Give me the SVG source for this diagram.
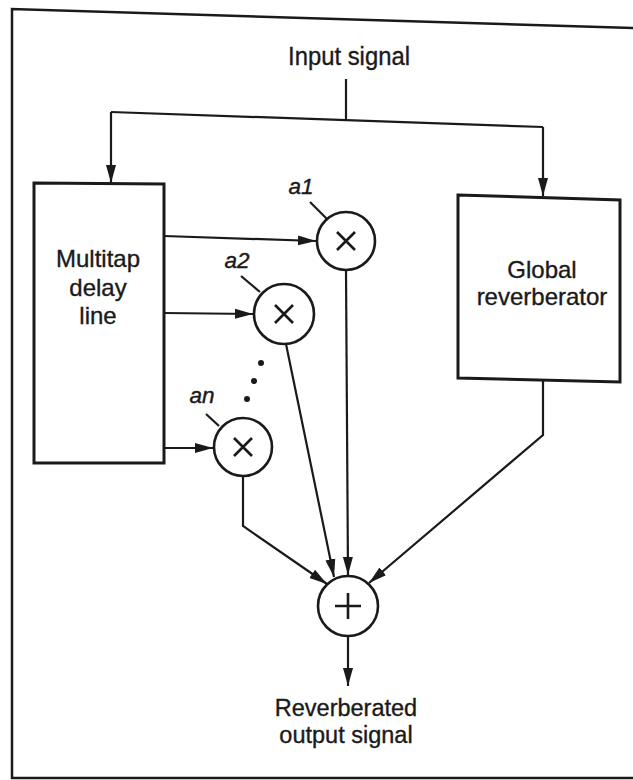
<svg xmlns="http://www.w3.org/2000/svg" width="633" height="780" viewBox="0 0 633 780">
<defs>
<marker id="arr" markerUnits="userSpaceOnUse" markerWidth="19" markerHeight="12" refX="18" refY="6" orient="auto">
<path d="M0,1 L18,6 L0,11 Z" fill="#1a1a1a"/>
</marker>
<style>
.t{font-family:"Liberation Sans",Arial,sans-serif;font-size:24px;fill:#1a1a1a;stroke:#1a1a1a;stroke-width:0.35;text-anchor:middle}
.lab{font-family:"Liberation Sans",Arial,sans-serif;font-size:22.5px;font-style:italic;fill:#1a1a1a;stroke:#1a1a1a;stroke-width:0.4;text-anchor:middle}
.box{fill:none;stroke:#1a1a1a;stroke-width:3}
.op{fill:#fff;stroke:#1a1a1a;stroke-width:2.6}
.sym{stroke:#1a1a1a;stroke-width:2.6;fill:none}
.c{fill:none;stroke:#1a1a1a;stroke-width:2.2}
.ca{fill:none;stroke:#1a1a1a;stroke-width:2.2;marker-end:url(#arr)}
</style>
</defs>
<rect width="633" height="780" fill="#fff"/>
<path d="M633,28 L12,9 L12,778 L633,778" fill="none" stroke="#1a1a1a" stroke-width="2.5"/>

<g id="input">
<text class="t" x="349" y="65" style="font-size:26px" textLength="122" lengthAdjust="spacingAndGlyphs">Input signal</text>
</g>

<g id="connectors">
<path class="c" d="M346,79 L346,119"/>
<path class="c" d="M111,112 L543,127"/>
<path class="ca" d="M111,112 L111,183"/>
<path class="ca" d="M543,127 L543,196"/>
<path class="ca" d="M164,236 L316,241"/>
<path class="ca" d="M164,313 L253,314"/>
<path class="ca" d="M164,448 L213,448"/>
<path class="ca" d="M346,270 L348,575"/>
<path class="ca" d="M286,344 L334,577"/>
<path class="ca" d="M243,476 L243,526 L327,584"/>
<path class="ca" d="M543,381 L543,435 L369,583"/>
<path class="ca" d="M348,636 L348,686"/>
<path class="c" d="M310,202 L327,219"/>
<path class="c" d="M241,276 L260,292"/>
<path class="c" d="M206,414 L219,426"/>
</g>

<g id="multitap">
<polygon class="box" points="34,183 164,184 164,463 34,463"/>
<text class="t" x="98" y="267">Multitap</text>
<text class="t" x="98" y="296">delay</text>
<text class="t" x="98" y="324">line</text>
</g>

<g id="global">
<polygon class="box" points="458,195 620,200 620,382 458,378"/>
<text class="t" x="542" y="278">Global</text>
<text class="t" x="542" y="305">reverberator</text>
</g>

<g id="mult-a1">
<circle class="op" cx="346" cy="241" r="29"/>
<path class="sym" d="M337,232 L355,250 M355,232 L337,250"/>
<text class="lab" x="301" y="194">a1</text>
</g>

<g id="mult-a2">
<circle class="op" cx="284" cy="314" r="30"/>
<path class="sym" d="M275,305 L293,323 M293,305 L275,323"/>
<text class="lab" x="237" y="268">a2</text>
</g>

<g id="dots">
<circle cx="261" cy="363" r="3" fill="#1a1a1a"/>
<circle cx="254" cy="381" r="3" fill="#1a1a1a"/>
<circle cx="247" cy="399" r="3" fill="#1a1a1a"/>
</g>

<g id="mult-an">
<circle class="op" cx="243" cy="447" r="29"/>
<path class="sym" d="M234,438 L252,456 M252,438 L234,456"/>
<text class="lab" x="202" y="403">an</text>
</g>

<g id="sum">
<circle class="op" cx="348" cy="606" r="30"/>
<path class="sym" d="M335,606 L361,606 M348,593 L348,619"/>
</g>

<g id="output">
<text class="t" x="346" y="716" style="font-size:23.5px">Reverberated</text>
<text class="t" x="346" y="743" style="font-size:23.5px">output signal</text>
</g>
</svg>
